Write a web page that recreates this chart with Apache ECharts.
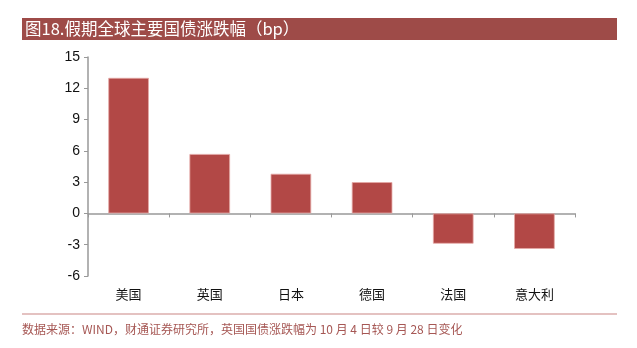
<!DOCTYPE html>
<html><head><meta charset="utf-8">
<script src="https://cdn.jsdelivr.net/npm/echarts@6/dist/echarts.min.js"></script>
<style>html,body{margin:0;padding:0;background:#fff}#c{width:637px;height:348px}</style>
</head><body><div id="c"></div>
<script>
const titleText = '图18.假期全球主要国债涨跌幅（bp）';
const sourceText = '数据来源：WIND，财通证券研究所，英国国债涨跌幅为 10 月 4 日较 9 月 28 日变化';
const categories = ['美国', '英国', '日本', '德国', '法国', '意大利'];
const values = [13.0, 5.7, 3.8, 3.0, -2.9, -3.4];
const yTicks = { min: -6, max: 15, interval: 3 };

const chart = echarts.init(document.getElementById('c'), null, { renderer: 'canvas' });
chart.setOption({
  animation: false,
  backgroundColor: '#fff',
  grid: { left: 88, right: 62, top: 57, bottom: 72, containLabel: false },
  xAxis: {
    type: 'category',
    data: categories,
    axisLine: { onZero: true, lineStyle: { color: '#999', width: 1.5 } },
    axisTick: { show: true, alignWithLabel: false, length: 4, lineStyle: { color: '#999' } },
    axisLabel: {
      interval: 0,
      color: '#111',
      fontFamily: 'Noto Sans CJK SC',
      fontSize: 13,
      margin: 12
    },
    position: 'bottom'
  },
  yAxis: {
    type: 'value',
    min: yTicks.min, max: yTicks.max, interval: yTicks.interval,
    axisLine: { show: true, lineStyle: { color: '#999', width: 1.5 } },
    axisTick: { show: true, length: 4, lineStyle: { color: '#999' } },
    splitLine: { show: false },
    axisLabel: { color: '#111', fontFamily: 'Liberation Sans', fontSize: 14, margin: 8 }
  },
  series: [{
    type: 'bar',
    data: values,
    barWidth: '50%',
    itemStyle: { color: '#B24846', borderColor: '#E4A8A6', borderWidth: 0.8 }
  }],
  graphic: [
    { type: 'rect', shape: { x: 22, y: 18, width: 595, height: 22 }, style: { fill: '#9E4B48' }, silent: true },
    { type: 'text', x: 25, y: 29, style: { text: titleText, fill: '#fff', font: '16.5px "Noto Sans CJK SC"', textVerticalAlign: 'middle' } },
    { type: 'rect', shape: { x: 22, y: 313.5, width: 595, height: 1 }, style: { fill: '#C98583' }, silent: true },
    { type: 'text', x: 22, y: 329, style: { text: sourceText, fill: '#A65754', font: '12px "Noto Sans CJK SC"', textVerticalAlign: 'middle' } }
  ]
});
</script></body></html>
